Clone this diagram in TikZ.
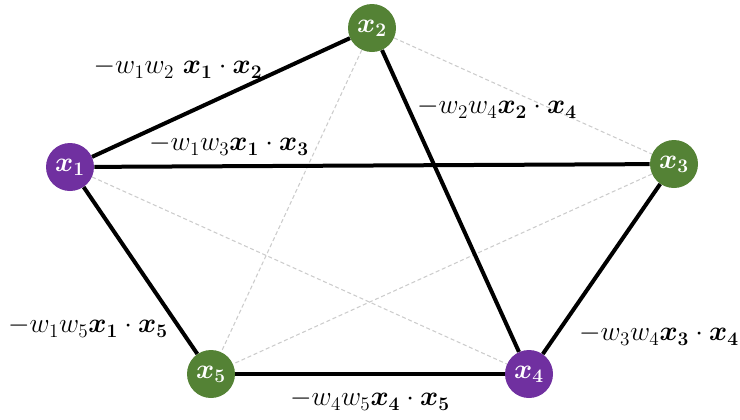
\documentclass[tikz,border=0pt]{standalone}
\usepackage{amsmath}
\usepackage{bm}
\definecolor{vpurple}{HTML}{7030A0}
\definecolor{vgreen}{HTML}{548235}
\begin{document}
\begin{tikzpicture}[x=0.75pt,y=-0.75pt,
  vert/.style={circle,minimum size=36pt,inner sep=0pt,text=white,font=\fontsize{22}{26}\selectfont},
  pnode/.style={vert,fill=vpurple},
  gnode/.style={vert,fill=vgreen},
  strong/.style={line width=3pt,black},
  weak/.style={line width=0.8pt,gray!40,dash pattern=on 3pt off 2pt},
  lab/.style={font=\fontsize{22}{26}\selectfont,inner sep=0pt}]
\useasboundingbox (0,0) rectangle (740,419);
\node[pnode] (x1) at (70,167) {$\bm{x_1}$};
\node[gnode] (x2) at (372,28) {$\bm{x_2}$};
\node[gnode] (x3) at (674,164) {$\bm{x_3}$};
\node[pnode] (x4) at (529,374) {$\bm{x_4}$};
\node[gnode] (x5) at (211,374) {$\bm{x_5}$};
\draw[weak] (x1) -- (x4);
\draw[weak] (x2) -- (x3);
\draw[weak] (x2) -- (x5);
\draw[weak] (x3) -- (x5);
\draw[strong] (x1) -- (x2);
\draw[strong] (x1) -- (x3);
\draw[strong] (x1) -- (x5);
\draw[strong] (x2) -- (x4);
\draw[strong] (x3) -- (x4);
\draw[strong] (x4) -- (x5);
\node[lab] (l12) at (178,68) {$-w_1w_2\ \bm{x_1}\cdot\bm{x_2}$};
\node[lab] (l13) at (229,145) {$-w_1w_3\bm{x_1}\cdot\bm{x_3}$};
\node[lab] (l24) at (497,108) {$-w_2w_4\bm{x_2}\cdot\bm{x_4}$};
\node[lab] (l15) at (88,327) {$-w_1w_5\bm{x_1}\cdot\bm{x_5}$};
\node[lab] (l34) at (659,335) {$-w_3w_4\bm{x_3}\cdot\bm{x_4}$};
\node[lab] (l45) at (370,400) {$-w_4w_5\bm{x_4}\cdot\bm{x_5}$};
\end{tikzpicture}
\end{document}
